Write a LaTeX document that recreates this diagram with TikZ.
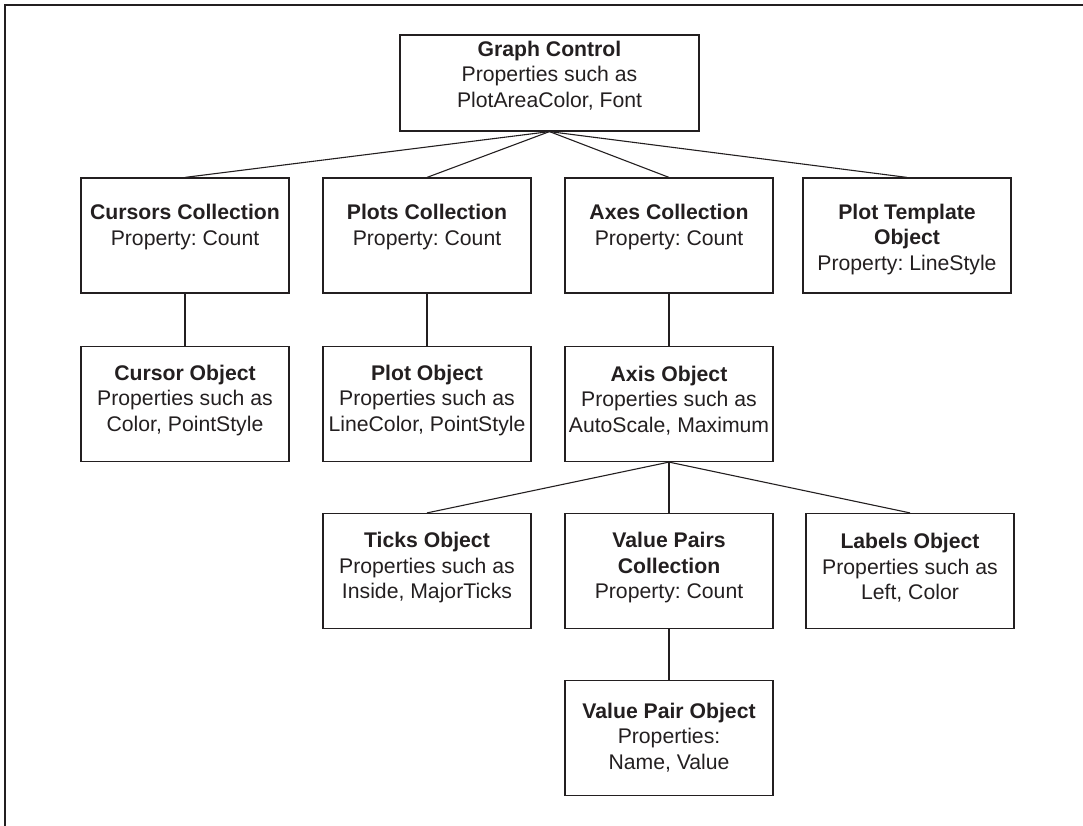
\documentclass[tikz,border=0pt]{standalone}
\usepackage{fontspec}
\setmainfont{Liberation Sans}
\definecolor{ink}{HTML}{231F20}
\begin{document}
\frenchspacing
\begin{tikzpicture}[x=1pt,y=-1pt,
  box/.style={draw=ink, line width=1.2pt, minimum width=208pt, minimum height=115pt, inner sep=0pt},
  txt/.style={align=center, text=ink, inner sep=0pt, font=\fontsize{21.2}{25.5}\selectfont},
  conn/.style={draw=ink, line width=1.1pt}]
\useasboundingbox (0,0) rectangle (1083,826);
\draw[ink, line width=2pt] (1083,5.3) -- (5.3,5.3) -- (5.3,826);
% boxes
\node[box, minimum width=299pt, minimum height=96pt] (gc) at (549.5,83) {};
\node[box] (cc) at (185,235.5) {};
\node[box] (pc) at (427,235.5) {};
\node[box] (ac) at (669,235.5) {};
\node[box] (pt) at (907,235.5) {};
\node[box] (co) at (185,404) {};
\node[box] (po) at (427,404) {};
\node[box] (ao) at (669,404) {};
\node[box] (to) at (427,571) {};
\node[box] (vp) at (669,571) {};
\node[box] (lo) at (910,571) {};
\node[box] (vo) at (669,738) {};
% texts
\node[txt] (tgc) at (549.5,75.5) {\textbf{Graph Control}\\Properties such as\\PlotAreaColor, Font};
\node[txt] (tcc) at (185,227) {\textbf{Cursors Collection}\\Property: Count};
\node[txt] (tpc) at (427,227) {\textbf{Plots Collection}\\Property: Count};
\node[txt] (tac) at (669,227) {\textbf{Axes Collection}\\Property: Count};
\node[txt] (tpt) at (907,239.5) {\textbf{Plot Template}\\\textbf{Object}\\Property: LineStyle};
\node[txt] (tco) at (185,400.5) {\textbf{Cursor Object}\\Properties such as\\Color, PointStyle};
\node[txt] (tpo) at (427,400.5) {\textbf{Plot Object}\\Properties such as\\LineColor, PointStyle};
\node[txt] (tao) at (669,400.5) {\textbf{Axis Object}\\Properties such as\\AutoScale, Maximum};
\node[txt] (tto) at (427,568) {\textbf{Ticks Object}\\Properties such as\\Inside, MajorTicks};
\node[txt] (tvp) at (669,568) {\textbf{Value Pairs}\\\textbf{Collection}\\Property: Count};
\node[txt] (tlo) at (910,568) {\textbf{Labels Object}\\Properties such as\\Left, Color};
\node[txt] (tvo) at (669,737.5) {\textbf{Value Pair Object}\\Properties:\\Name, Value};
% connectors
\foreach \n in {cc,pc,ac,pt} \draw[conn] (gc.south) -- (\n.north);
\draw[conn] (cc.south) -- (co.north);
\draw[conn] (pc.south) -- (po.north);
\draw[conn] (ac.south) -- (ao.north);
\foreach \n in {to,vp,lo} \draw[conn] (ao.south) -- (\n.north);
\draw[conn] (vp.south) -- (vo.north);
\end{tikzpicture}
\end{document}
